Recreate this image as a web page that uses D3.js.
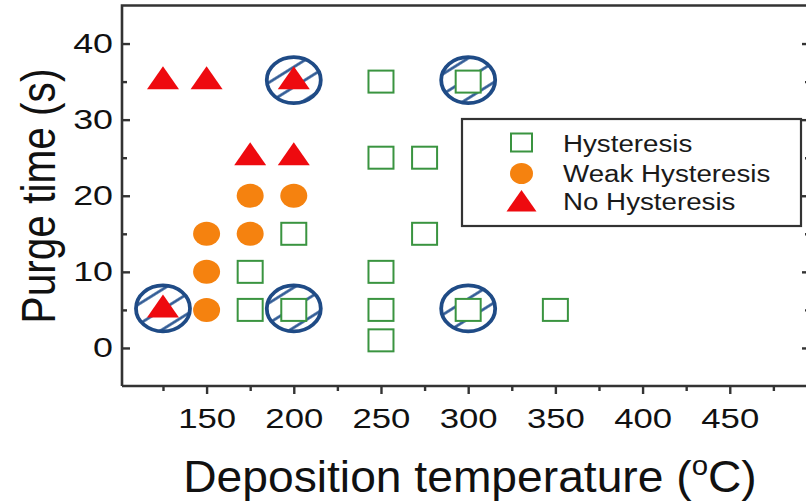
<!DOCTYPE html>
<html><head><meta charset="utf-8">
<script src="https://cdn.jsdelivr.net/npm/d3@7"></script>
<style>
body{margin:0;background:#fff}
svg{display:block}
text{font-family:"Liberation Sans",Arial,Helvetica,sans-serif}
</style>
</head><body>
<svg id="chart" width="806" height="501"></svg>
<script>
// ---- data ----
const xMajorTicks = [150, 200, 250, 300, 350, 400, 450];
const xMinorTicks = [125, 175, 225, 275, 325, 375, 425, 475];
const yMajorTicks = [0, 10, 20, 30, 40];
const yMinorTicks = [5, 15, 25, 35];

const hystTemp  = [250, 300, 250, 275, 200, 275, 175, 250, 175, 200, 250, 300, 350, 250];
const hystPurge = [35, 35, 25, 25, 15, 15, 10, 10, 5, 5, 5, 5, 5, 1];

const weakTemp  = [175, 200, 150, 175, 150, 150];
const weakPurge = [20, 20, 15, 15, 10, 5];

const noTemp  = [125, 150, 200, 175, 200, 125];
const noPurge = [35, 35, 35, 25, 25, 5];

const markedTemp  = [125, 200, 300, 200, 300];
const markedPurge = [5, 5, 5, 35, 35];

const legendLabels = ["Hysteresis", "Weak Hysteresis", "No Hysteresis"];
const xTitle = "Deposition temperature (";
const yTitle = "Purge time (s)";

// ---- styles ----
const GREEN = "#3a9440", ORANGE = "#f5820f", RED = "#ee0a0f", NAVY = "#1f4b86", AXIS = "#333";

const svg = d3.select("#chart");
const x = d3.scaleLinear().domain([101.5, 496]).range([122, 810]);
const y = d3.scaleLinear().domain([-5, 45]).range([386, 5.5]);

const defs = svg.append("defs");
const pat = defs.append("pattern").attr("id", "hatch")
  .attr("patternUnits", "userSpaceOnUse").attr("width", 17).attr("height", 17)
  .attr("patternTransform", "rotate(-32)");
pat.append("rect").attr("width", 17).attr("height", 17).attr("fill", "#fff");
pat.append("line").attr("x1", 0).attr("x2", 17).attr("y1", 8.5).attr("y2", 8.5)
  .attr("stroke", "#2a5692").attr("stroke-width", 2.6);

// ---- frame ----
const [x0, x1] = x.range();
const [yb, yt] = y.range();
svg.append("path")
  .attr("d", `M${x0},${yb}V${yt}H${x1}V${yb}H${x0}`)
  .attr("fill", "none").attr("stroke", AXIS).attr("stroke-width", 2.6);

function styleAxis(g) {
  g.select(".domain").remove();
  g.selectAll(".tick line").attr("stroke", AXIS).attr("stroke-width", 2.4);
}

// bottom axis (outward ticks)
const gx = svg.append("g").attr("transform", `translate(0,${yb})`)
  .call(d3.axisBottom(x).tickValues(xMajorTicks).tickSize(8).tickPadding(14).tickSizeOuter(0))
  .call(styleAxis);
gx.selectAll(".tick text").attr("font-size", 28).attr("fill", "#111")
  .attr("font-family", "Liberation Sans, Arial, sans-serif")
  .attr("transform", "scale(1.24,1)");
svg.append("g").attr("transform", `translate(0,${yb})`)
  .call(d3.axisBottom(x).tickValues(xMinorTicks).tickSize(5).tickFormat(""))
  .call(styleAxis);

// left axis (inward ticks)
const gy = svg.append("g").attr("transform", `translate(${x0},0)`)
  .call(d3.axisLeft(y).tickValues(yMajorTicks).tickSize(-8).tickPadding(7).tickSizeOuter(0))
  .call(styleAxis);
gy.selectAll(".tick text").attr("font-size", 28).attr("fill", "#111")
  .attr("font-family", "Liberation Sans, Arial, sans-serif")
  .attr("transform", "scale(1.28,1)");
svg.append("g").attr("transform", `translate(${x0},0)`)
  .call(d3.axisLeft(y).tickValues(yMinorTicks).tickSize(-5).tickFormat(""))
  .call(styleAxis);

// right axis (inward ticks, no labels)
svg.append("g").attr("transform", `translate(${x1},0)`)
  .call(d3.axisRight(y).tickValues(yMajorTicks).tickSize(-8).tickFormat(""))
  .call(styleAxis);
svg.append("g").attr("transform", `translate(${x1},0)`)
  .call(d3.axisRight(y).tickValues(yMinorTicks).tickSize(-5).tickFormat(""))
  .call(styleAxis);

// ---- hatched ellipses ----
svg.append("g").selectAll("ellipse").data(markedTemp.map((t, i) => [t, markedPurge[i]]))
  .join("ellipse")
  .attr("cx", d => x(d[0])).attr("cy", d => y(d[1]) - 1.5)
  .attr("rx", 27).attr("ry", 23)
  .attr("fill", "url(#hatch)").attr("stroke", NAVY).attr("stroke-width", 3.8);

// ---- markers ----
const SQ_W = 25, SQ_H = 22;
svg.append("g").selectAll("rect").data(hystTemp.map((t, i) => [t, hystPurge[i]]))
  .join("rect")
  .attr("x", d => x(d[0]) - SQ_W / 2).attr("y", d => y(d[1]) - SQ_H / 2)
  .attr("width", SQ_W).attr("height", SQ_H)
  .attr("fill", "#fff").attr("stroke", GREEN).attr("stroke-width", 2);

svg.append("g").selectAll("ellipse").data(weakTemp.map((t, i) => [t, weakPurge[i]]))
  .join("ellipse")
  .attr("cx", d => x(d[0])).attr("cy", d => y(d[1]))
  .attr("rx", 13.5).attr("ry", 12).attr("fill", ORANGE);

function tri(cx, cy, w, h) {
  // centroid-centred triangle
  return `M${cx},${cy - h * 2 / 3}L${cx + w / 2},${cy + h / 3}L${cx - w / 2},${cy + h / 3}Z`;
}
svg.append("g").selectAll("path").data(noTemp.map((t, i) => [t, noPurge[i]]))
  .join("path")
  .attr("d", d => tri(x(d[0]), y(d[1]), 32, 23))
  .attr("fill", RED);

// ---- legend ----
const lg = svg.append("g");
lg.append("rect").attr("x", 462).attr("y", 119).attr("width", 339).attr("height", 107)
  .attr("fill", "#fff").attr("stroke", AXIS).attr("stroke-width", 2.2);
const lx = 521.5;
lg.append("rect").attr("x", lx - 10.5).attr("y", 142.5 - 9).attr("width", 21).attr("height", 18)
  .attr("fill", "#fff").attr("stroke", GREEN).attr("stroke-width", 2);
lg.append("ellipse").attr("cx", lx).attr("cy", 173.5).attr("rx", 11.5).attr("ry", 10.5).attr("fill", ORANGE);
lg.append("path").attr("d", `M${lx},190L${lx + 15},211.5L${lx - 15},211.5Z`).attr("fill", RED);
const lBase = [151.7, 181.5, 210];
lg.selectAll("text.lt").data(legendLabels).join("text").attr("class", "lt")
  .attr("transform", (d, i) => `translate(563,${lBase[i]}) scale(1.19,1)`)
  .attr("font-size", 23.3).attr("fill", "#1a1a1a").text(d => d);

// ---- axis titles ----
const xt = svg.append("text")
  .attr("transform", "translate(470,492) scale(1.05,1)")
  .attr("text-anchor", "middle").attr("font-size", 44).attr("fill", "#111");
xt.append("tspan").text(xTitle);
xt.append("tspan").attr("font-size", 28).attr("dy", -17).text("o");
xt.append("tspan").attr("dy", 17).text("C)");

svg.append("text")
  .attr("transform", "translate(55,196) rotate(-90) scale(1,1.2)")
  .attr("text-anchor", "middle").attr("font-size", 40.6).attr("fill", "#111")
  .text(yTitle);
</script>
</body></html>
